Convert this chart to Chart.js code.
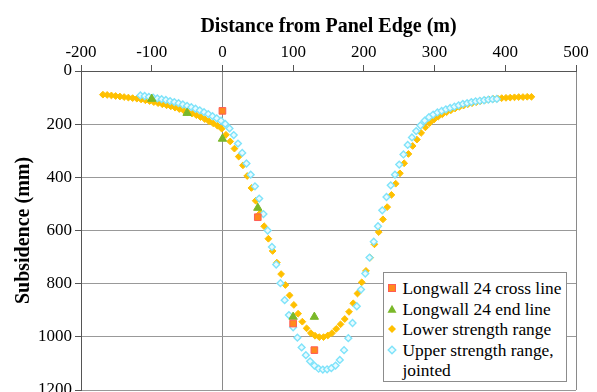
<!DOCTYPE html>
<html>
<head>
<meta charset="utf-8">
<script src="https://cdn.jsdelivr.net/npm/chart.js@4.4.0/dist/chart.umd.min.js"></script>
<style>
  html, body { margin: 0; padding: 0; background: #fff; overflow: hidden; }
  #wrap { position: relative; width: 597px; height: 420px; }
  #legend {
    position: absolute; left: 383px; top: 272px; width: 184px; height: 110px;
    box-sizing: border-box; border: 1px solid #8c8c8c; background: #fff;
    font-family: "Liberation Serif", serif; font-size: 17.4px; line-height: 20.6px;
    color: #000; padding-top: 5px;
  }
  .item { position: relative; padding-left: 18.5px; }
  .nowrap { white-space: nowrap; }
  .item svg { position: absolute; left: 3.3px; top: 5.3px; }
</style>
</head>
<body>
<div id="wrap">
  <canvas id="myChart" width="597" height="420"></canvas>
  <div id="legend">
    <div class="item nowrap"><svg width="10" height="10"><rect x="1.5" y="1.5" width="7" height="7" fill="#FF8A1C" stroke="#FF5B55" stroke-width="1"/></svg>Longwall 24 cross line</div>
    <div class="item nowrap"><svg width="10" height="10"><polygon points="5,0.8 9.5,8.8 0.5,8.8" fill="#7AB829"/></svg>Longwall 24 end line</div>
    <div class="item nowrap"><svg width="10" height="10"><polygon points="5,1 9,5 5,9 1,5" fill="#FFC000"/></svg>Lower strength range</div>
    <div class="item"><svg width="10" height="10"><polygon points="5,1.2 8.8,5 5,8.8 1.2,5" fill="#E8FBFF" stroke="#7FE3FA" stroke-width="1.4"/></svg>Upper strength range, jointed</div>
  </div>
</div>
<script>
// axis ticks
const xTickValues = [-200, -100, 0, 100, 200, 300, 400, 500];
const yTickValues = [0, 200, 400, 600, 800, 1000, 1200];

// measured points
const crossX = [0, 50, 100, 130];
const crossY = [150, 550, 950, 1050];

const endX = [-100, -50, 0, 50, 100, 130];
const endY = [105, 158, 255, 515, 925, 925];

// lower strength range prediction
const lowerX = [-169, -163, -157, -151, -145, -139, -133, -127, -121, -115, -109, -103, -97, -91, -85, -79, -73, -67, -61, -55,
  -49, -43, -37, -31, -25, -19, -13, -7, -1, 5, 11, 17, 23, 29, 35, 41, 47, 53, 59, 65,
  71, 77, 83, 89, 95, 101, 107, 113, 119, 125, 131, 137, 143, 149, 155, 161, 167, 173, 179, 185,
  191, 197, 203, 209, 215, 221, 227, 233, 239, 245, 251, 257, 263, 269, 275, 281, 287, 293, 299, 305,
  311, 317, 323, 329, 335, 341, 347, 353, 359, 365, 371, 377, 383, 389, 395, 401, 407, 413, 419, 425,
  431, 437];
const lowerY = [89, 90, 92, 94, 96, 98, 100, 102, 104, 107, 110, 113, 117, 121, 125, 129, 133, 138, 143, 148,
  154, 160, 166, 173, 181, 189, 197, 206, 217, 240, 265, 292, 322, 355, 395, 440, 488, 536, 584, 631,
  677, 721, 764, 805, 844, 880, 913, 943, 968, 986, 996, 1001, 1001, 995, 986, 970, 953, 933, 906, 874,
  837, 795, 752, 702, 652, 606, 558, 512, 466, 424, 385, 347, 312, 282, 258, 233, 212, 196, 183, 172,
  163, 155, 148, 141, 135, 130, 125, 121, 117, 113, 110, 107, 105, 103, 102, 101, 100, 99, 98, 98,
  97, 97];

// upper strength range, jointed
const upperX = [-116, -110, -104, -98, -92, -86, -80, -74, -68, -62, -56, -50, -44, -38, -32, -26, -20, -14, -8, -2,
  4, 10, 16, 22, 28, 34, 40, 46, 52, 58, 64, 70, 76, 82, 88, 94, 100, 106, 112, 118,
  124, 130, 136, 142, 148, 154, 160, 166, 172, 178, 184, 190, 196, 202, 208, 214, 220, 226, 232, 238,
  244, 250, 256, 262, 268, 274, 280, 286, 292, 298, 304, 310, 316, 322, 328, 334, 340, 346, 352, 358,
  364, 370, 376, 382, 388];
const upperY = [92, 94, 97, 100, 103, 106, 109, 113, 117, 121, 126, 131, 136, 142, 148, 155, 162, 170, 178, 187,
  199, 216, 241, 273, 308, 348, 390, 434, 480, 538, 600, 662, 728, 798, 862, 918, 964, 1003, 1040, 1069,
  1092, 1108, 1120, 1123, 1122, 1118, 1108, 1087, 1050, 1005, 948, 885, 822, 762, 702, 642, 584, 524, 474, 430,
  390, 352, 314, 278, 250, 226, 205, 187, 174, 164, 156, 150, 144, 139, 134, 129, 124, 121, 117, 114,
  112, 110, 108, 106, 105];

function pairs(xs, ys) {
    return xs.map((x, i) => ({ x: x, y: ys[i] }));
}

const serif = "'Liberation Serif', 'Times New Roman', serif";
Chart.defaults.font.family = serif;

var ctx = document.getElementById("myChart").getContext("2d");

var myChart = new Chart(ctx, {
    type: "scatter",
    data: {
        datasets: [
            {
                label: "Longwall 24 cross line",
                data: pairs(crossX, crossY),
                pointStyle: "rect",
                pointRadius: 4.7,
                backgroundColor: "#FF8A1C",
                borderColor: "#FF5B55",
                borderWidth: 1
            },
            {
                label: "Longwall 24 end line",
                data: pairs(endX, endY),
                pointStyle: "triangle",
                pointRadius: 4.8,
                backgroundColor: "#7AB829",
                borderColor: "#7AB829",
                borderWidth: 1
            },
            {
                label: "Upper strength range, jointed",
                data: pairs(upperX, upperY),
                pointStyle: "rectRot",
                pointRadius: 3.4,
                backgroundColor: "#E8FBFF",
                borderColor: "#7FE3FA",
                borderWidth: 1.4
            },
            {
                label: "Lower strength range",
                data: pairs(lowerX, lowerY),
                pointStyle: "rectRot",
                pointRadius: 3.4,
                backgroundColor: "#FFC000",
                borderColor: "#FFC000",
                borderWidth: 1
            }
        ]
    },
    options: {
        responsive: false,
        animation: false,
        devicePixelRatio: 1,
        layout: { padding: { left: 0, top: 0, right: 21, bottom: 30 } },
        plugins: { legend: { display: false }, tooltip: { enabled: false } },
        scales: {
            x: {
                type: "linear",
                position: "top",
                min: -200,
                max: 500,
                afterBuildTicks: s => { s.ticks = xTickValues.map(v => ({ value: v })); },
                afterFit: s => { s.height = 71; },
                ticks: {
                    font: { family: serif, size: 17 }, color: "#000", padding: 2, maxRotation: 0, autoSkip: false,
                    callback: v => String(v)
                },
                grid: {
                    color: c => (c.tick && (c.tick.value === 0 || c.tick.value === 500)) ? "#8a8a8a" : "rgba(0,0,0,0)",
                    tickColor: "#555",
                    tickLength: 6
                },
                border: { color: "#555", width: 1 },
                title: {
                    display: true,
                    text: "Distance from Panel Edge (m)",
                    color: "#000",
                    font: { family: serif, size: 20, weight: "bold" },
                    padding: { top: 15, bottom: 0 }
                }
            },
            y: {
                type: "linear",
                reverse: true,
                min: 0,
                max: 1200,
                afterBuildTicks: s => { s.ticks = yTickValues.map(v => ({ value: v })); },
                afterFit: s => { s.width = 81; },
                ticks: {
                    font: { family: serif, size: 17 }, color: "#000", padding: 3, autoSkip: false,
                    callback: v => String(v)
                },
                grid: {
                    color: c => (c.tick && c.tick.value === 0) ? "rgba(0,0,0,0)" : "#999",
                    tickColor: "#555",
                    tickLength: 6
                },
                border: { color: "#555", width: 1 },
                title: {
                    display: true,
                    text: "Subsidence (mm)",
                    color: "#000",
                    font: { family: serif, size: 20, weight: "bold" },
                    padding: { top: 12, bottom: 0 }
                }
            }
        }
    }
});
</script>
</body>
</html>
